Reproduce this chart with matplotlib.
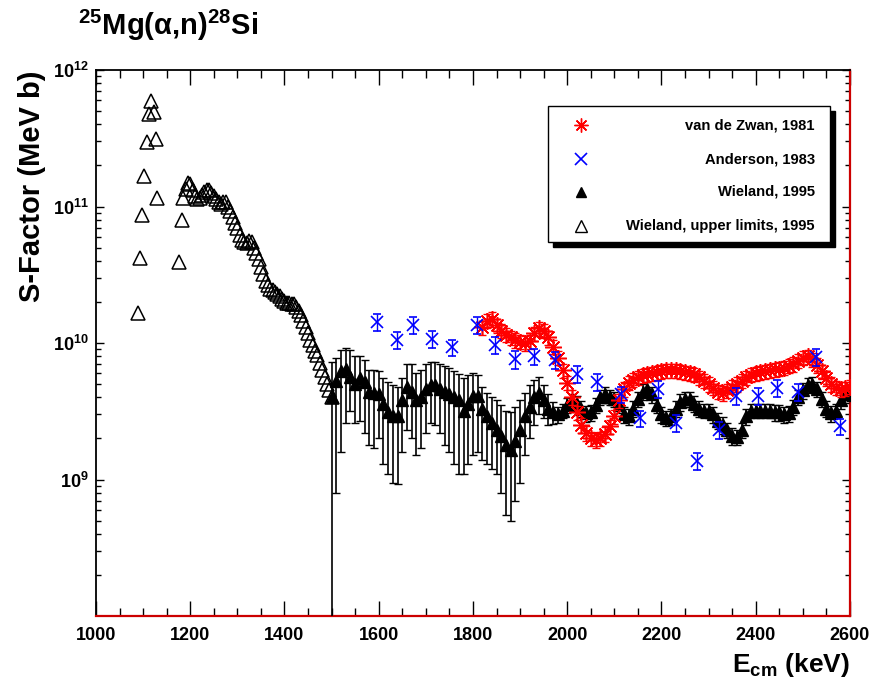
import numpy as np
import matplotlib
matplotlib.use('Agg')
import matplotlib.pyplot as plt
from matplotlib.patches import Rectangle
from matplotlib.lines import Line2D
from matplotlib.ticker import FixedLocator, FixedFormatter, NullFormatter

plt.rcParams['font.family'] = ['Liberation Sans', 'DejaVu Sans']
plt.rcParams['font.weight'] = 'bold'
plt.rcParams['mathtext.fontset'] = 'custom'
plt.rcParams['mathtext.rm'] = 'Liberation Sans:bold'
plt.rcParams['mathtext.it'] = 'Liberation Sans:bold'
plt.rcParams['mathtext.bf'] = 'Liberation Sans:bold'
plt.rcParams['mathtext.default'] = 'rm'

# ---------------- data (S-factor in units of 1e9 MeV b) ----------------
# Wieland 1995, upper limits (open triangles)
ul_iso_E = [1090, 1093, 1098, 1102, 1108, 1112, 1117, 1123, 1127, 1130, 1177, 1182, 1185]
ul_iso_S = [16.6, 42, 86, 166, 295, 480, 590, 490, 310, 115, 39, 79, 115]
ul_curve_E = np.arange(1190, 1501, 5)
ul_curve_S = [135, 148, 145, 132, 120, 113, 115, 122, 128, 132,
              131, 126, 119, 114, 108, 105, 107, 108, 100, 92,
              84, 76, 70, 62, 57, 55, 54, 56, 55, 50,
              46, 41, 36, 32, 28.5, 26.5, 25, 24.3, 23.8, 23,
              22, 21, 20.2, 19.8, 19.6, 19.4, 19.2, 18.5, 17.2, 16,
              14.5, 13, 11.8, 10.6, 9.7, 8.8, 8.1, 7.1, 6.3, 5.6,
              5.0, 4.5, 4.0]

# Wieland 1995 (filled triangles) with error-bar bounds
wie_E = np.arange(1500, 2601, 10)
wie_S = [4.0, 5.3, 6.2, 6.5, 5.6, 5.0, 5.5, 5.2, 4.4, 4.3,
         4.2, 3.6, 3.1, 2.9, 2.9, 3.8, 4.8, 4.4, 3.8, 4.0,
         4.6, 4.9, 4.9, 4.6, 4.4, 4.2, 4.0, 3.8, 3.2, 3.6,
         4.1, 4.1, 3.3, 2.9, 2.6, 2.3, 2.1, 1.8, 1.65, 1.9,
         2.3, 2.9, 3.4, 4.0, 4.3, 3.8, 3.3, 3.1, 3.0, 3.2,
         3.5, 3.7, 3.6, 3.3, 3.05, 3.1, 3.5, 4.0, 4.2, 4.0,
         3.9, 3.5, 3.0, 2.9, 3.3, 3.9, 4.4, 4.6, 4.2, 3.5,
         3.0, 2.8, 2.9, 3.3, 3.7, 3.9, 3.9, 3.6, 3.3, 3.2,
         3.2, 3.0, 2.7, 2.5, 2.3, 2.1, 2.05, 2.3, 2.9, 3.2,
         3.2, 3.2, 3.2, 3.2, 3.1, 3.1, 3.0, 3.05, 3.4, 4.0,
         4.5, 4.9, 5.0, 4.6, 3.9, 3.3, 3.05, 3.2, 3.8, 4.2,
         4.3]
wie_hi = [7.2, 7.8, 8.9, 9.2, 8.9, 8.0, 8.0, 7.5, 6.3, 6.3,
          6.2, 5.5, 5.2, 4.9, 4.8, 5.5, 7.0, 7.0, 6.0, 6.3,
          7.0, 7.2, 7.2, 7.0, 6.8, 6.6, 6.2, 5.9, 5.5, 5.8,
          6.0, 5.8, 4.8, 4.3, 4.0, 3.8, 3.5, 3.2, 3.1, 3.4,
          3.8, 4.3, 4.9, 5.4, 5.6, 4.9, 4.2, 3.7, 3.4, 3.6,
          3.95, 4.2, 4.1, 3.75, 3.45, 3.5, 3.95, 4.5, 4.75, 4.5,
          4.4, 3.95, 3.4, 3.3, 3.75, 4.4, 5.0, 5.2, 4.75, 3.95,
          3.4, 3.15, 3.3, 3.75, 4.2, 4.4, 4.4, 4.1, 3.75, 3.6,
          3.6, 3.4, 3.05, 2.85, 2.6, 2.4, 2.3, 2.6, 3.3, 3.6,
          3.6, 3.6, 3.6, 3.6, 3.5, 3.5, 3.4, 3.45, 3.85, 4.5,
          5.1, 5.5, 5.65, 5.2, 4.4, 3.75, 3.45, 3.6, 4.3, 4.75,
          4.85]
wie_lo = [0.01, 0.8, 1.6, 2.6, 3.2, 2.6, 2.7, 2.2, 1.8, 1.7,
          2.0, 1.3, 1.1, 0.94, 0.93, 1.6, 2.3, 2.0, 1.5, 1.7,
          2.2, 2.6, 2.5, 2.2, 1.8, 1.6, 1.3, 1.1, 1.1, 1.3,
          1.5, 1.6, 1.4, 1.3, 1.2, 1.1, 0.8, 0.55, 0.5, 0.7,
          0.95, 1.5, 2.0, 2.5, 3.0, 2.8, 2.5, 2.55, 2.6, 2.8,
          3.05, 3.2, 3.1, 2.85, 2.65, 2.7, 3.05, 3.5, 3.65, 3.5,
          3.4, 3.05, 2.6, 2.5, 2.85, 3.4, 3.8, 4.0, 3.65, 3.05,
          2.6, 2.45, 2.5, 2.85, 3.2, 3.4, 3.4, 3.1, 2.85, 2.8,
          2.8, 2.6, 2.35, 2.15, 2.0, 1.8, 1.8, 2.0, 2.5, 2.8,
          2.8, 2.8, 2.8, 2.8, 2.7, 2.7, 2.6, 2.65, 2.95, 3.5,
          3.9, 4.3, 4.35, 4.0, 3.4, 2.85, 2.65, 2.8, 3.3, 3.65,
          3.75]

# van de Zwan 1981 (red stars)
zwan_E = np.arange(1820, 2601, 10)
zwan_S = [13.0, 14.5, 15.0, 13.5, 12.3, 11.5, 11.0, 10.5, 10.2, 10.0,
          10.3, 11.8, 12.8, 12.3, 11.0, 9.4, 7.8, 6.3, 5.1, 4.0,
          3.1, 2.5, 2.2, 2.0, 1.95, 2.0, 2.15, 2.45, 2.9, 3.8,
          4.6, 5.1, 5.4, 5.6, 5.8, 5.9, 6.0, 6.1, 6.2, 6.3,
          6.3, 6.3, 6.2, 6.1, 6.0, 5.9, 5.6, 5.3, 5.0, 4.7,
          4.4, 4.3, 4.5, 4.8, 5.0, 5.3, 5.6, 5.85, 6.0, 6.1,
          6.2, 6.3, 6.4, 6.5, 6.6, 6.8, 7.0, 7.4, 7.8, 8.0,
          7.6, 6.9, 6.2, 5.5, 5.0, 4.7, 4.6, 4.65, 4.8]
zwan_err = [1.5, 1.7, 1.8, 1.6, 1.5, 1.4, 1.3, 1.3, 1.2, 1.2,
            1.2, 1.4, 1.5, 1.5, 1.3, 1.1, 0.95, 0.75, 0.6, 0.5,
            0.38, 0.3, 0.27, 0.24, 0.24, 0.24, 0.26, 0.3, 0.35, 0.45,
            0.55, 0.6, 0.65, 0.67, 0.7, 0.7, 0.72, 0.73, 0.74, 0.75,
            0.75, 0.75, 0.74, 0.73, 0.72, 0.7, 0.67, 0.64, 0.6, 0.56,
            0.53, 0.52, 0.54, 0.58, 0.6, 0.64, 0.67, 0.7, 0.72, 0.73,
            0.74, 0.75, 0.77, 0.78, 0.79, 0.82, 0.84, 0.89, 0.94, 0.96,
            0.91, 0.83, 0.74, 0.66, 0.6, 0.56, 0.55, 0.56, 0.58]

# Anderson 1983 (blue crosses)
and_E = [1597, 1639, 1673, 1714, 1756, 1808, 1847, 1890, 1929, 1973, 2020, 2063,
         2114, 2155, 2192, 2230, 2275, 2322, 2359, 2404, 2446, 2490, 2528, 2578]
and_S = [14.3, 10.5, 13.5, 10.7, 9.3, 13.5, 9.7, 7.6, 8.0, 7.5, 5.9, 5.2,
         4.2, 2.8, 4.6, 2.6, 1.37, 2.3, 4.1, 4.1, 4.7, 4.4, 7.9, 2.45]
and_err = [2.0, 1.5, 1.9, 1.5, 1.3, 1.9, 1.4, 1.1, 1.1, 1.05, 0.83, 0.73,
           0.59, 0.39, 0.64, 0.36, 0.19, 0.32, 0.57, 0.57, 0.66, 0.62, 1.1, 0.34]

legend_labels = ['van de Zwan, 1981', 'Anderson, 1983', 'Wieland, 1995',
                 'Wieland, upper limits, 1995']
x_ticks = [1000, 1200, 1400, 1600, 1800, 2000, 2200, 2400, 2600]
y_ticks = [1e9, 1e10, 1e11, 1e12]
y_tick_labels = [r'$10^{9}$', r'$10^{10}$', r'$10^{11}$', r'$10^{12}$']
UNIT = 1e9

# ---------------- figure ----------------
W, H = 870, 685
fig = plt.figure(figsize=(8.7, 6.85), dpi=100)
ax = fig.add_axes([96 / W, 1 - 616 / H, (850 - 96) / W, (616 - 70) / H])
ax.set_yscale('log')
ax.set_xlim(1000, 2600)
ax.set_ylim(1e8, 1e12)

S = lambda a: np.asarray(a, dtype=float) * UNIT

# Wieland filled with error bars
wv, wh, wl = S(wie_S), S(wie_hi), S(wie_lo)
ax.errorbar(wie_E, wv, yerr=[wv - wl, wh - wv], fmt='^', color='black',
            ms=8.5, elinewidth=1.2, capsize=2.6, capthick=1.0, zorder=3)

# van de Zwan
zv, ze = S(zwan_S), S(zwan_err)
ax.errorbar(zwan_E, zv, yerr=ze, fmt='none', ecolor='red', elinewidth=1.0,
            capsize=2.6, capthick=1.0, zorder=4)
ax.plot(zwan_E, zv, linestyle='none', marker=(8, 2, 0), ms=12, mew=1.1,
        color='red', zorder=4)

# Anderson
av, ae = S(and_S), S(and_err)
ax.errorbar(and_E, av, yerr=ae, fmt='x', color='blue', ms=9, mew=1.2,
            elinewidth=1.0, capsize=3, capthick=1.0, zorder=5)

# Wieland upper limits
ax.plot(ul_iso_E, S(ul_iso_S), linestyle='none', marker='^', ms=9.5, mfc='none',
        mec='black', mew=1.1, zorder=3)
ax.plot(ul_curve_E, S(ul_curve_S), linestyle='none', marker='^', ms=9.5, mfc='none',
        mec='black', mew=1.1, zorder=3)

# ---------------- axes styling ----------------
ax.xaxis.set_major_locator(FixedLocator(x_ticks))
ax.xaxis.set_minor_locator(FixedLocator(list(range(1000, 2601, 50))))
ax.xaxis.set_major_formatter(FixedFormatter([str(t) for t in x_ticks]))
ax.yaxis.set_major_locator(FixedLocator(y_ticks))
ax.yaxis.set_major_formatter(FixedFormatter(y_tick_labels))
minor_y = [m * 10 ** e for e in range(8, 12) for m in range(2, 10)]
ax.yaxis.set_minor_locator(FixedLocator(minor_y))
ax.yaxis.set_minor_formatter(NullFormatter())

ax.tick_params(axis='x', which='major', direction='in', length=11, width=1,
               top=True, bottom=True, labelsize=13, pad=8)
ax.tick_params(axis='x', which='minor', direction='in', length=5.5, width=1,
               top=True, bottom=True)
ax.tick_params(axis='y', which='major', direction='in', length=6, width=1,
               left=True, right=True, labelsize=13, pad=5)
ax.tick_params(axis='y', which='minor', direction='in', length=3.5, width=1,
               left=True, right=True)
for lab in ax.get_xticklabels() + ax.get_yticklabels():
    lab.set_fontweight('bold')

for side in ['left', 'top']:
    ax.spines[side].set_color('black')
    ax.spines[side].set_linewidth(1.3)
for side in ['bottom', 'right']:
    ax.spines[side].set_color('#cc0000')
    ax.spines[side].set_linewidth(1.6)

# ---------------- texts ----------------
fig.text(78 / W, 1 - 35 / H, r'$^{25}$Mg(α,n)$^{28}$Si', fontsize=21,
         fontweight='bold', ha='left', va='baseline')
fig.text(32 / W, 1 - 70 / H, 'S-Factor (MeV b)', fontsize=21, fontweight='bold',
         rotation=90, ha='center', va='top')
fig.text(850 / W, 1 - 672 / H, r'E$_{cm}$ (keV)', fontsize=19, fontweight='bold',
         ha='right', va='baseline')

# ---------------- legend (ROOT style, right-aligned text, shadow) ----------------
lx0, lx1, ly0, ly1 = 548, 830, 106, 242
sh = 5
fig.add_artist(Rectangle(((lx0 + sh) / W, 1 - (ly1 + sh) / H), (lx1 - lx0) / W,
                         (ly1 - ly0) / H, transform=fig.transFigure,
                         facecolor='black', edgecolor='black', zorder=10))
fig.add_artist(Rectangle((lx0 / W, 1 - ly1 / H), (lx1 - lx0) / W, (ly1 - ly0) / H,
                         transform=fig.transFigure, facecolor='white',
                         edgecolor='black', linewidth=1.0, zorder=11))
row_y = [125, 159, 192, 226]
styles = [dict(marker=(8, 2, 0), ms=10, mew=1.0, color='red'),
          dict(marker='x', ms=9, mew=1.2, color='blue'),
          dict(marker='^', ms=7, color='black'),
          dict(marker='^', ms=9, mfc='none', mec='black', mew=1.0, color='black')]
for lab, yy, st in zip(legend_labels, row_y, styles):
    fig.add_artist(Line2D([581 / W], [1 - yy / H], transform=fig.transFigure,
                          linestyle='none', zorder=12, **st))
    fig.text(815 / W, 1 - yy / H, lab, fontsize=10.6, fontweight='bold',
             ha='right', va='center', zorder=12)

fig.savefig('out.png', dpi=100)
